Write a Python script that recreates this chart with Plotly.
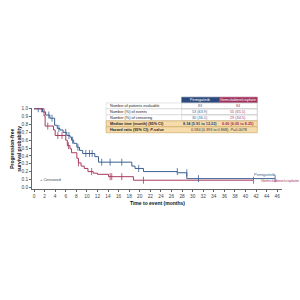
import plotly.graph_objects as go

# ---------------- data ----------------
pemi_t = [0, 1.6, 2.2, 3.0, 3.9, 4.4, 4.9, 5.5, 6.2, 6.8, 7.1, 7.5, 8.1, 8.6, 9.2, 11.5, 12.2, 18.5, 19.1, 20.7, 27.1, 28.9, 45.6]
pemi_s = [1.0, 0.96, 0.92, 0.88, 0.79, 0.75, 0.73, 0.70, 0.66, 0.64, 0.60, 0.56, 0.51, 0.47, 0.43, 0.39, 0.32, 0.27, 0.24, 0.20, 0.185, 0.11, 0.11]
pemi_cens_t = [0.8, 2.8, 3.4, 4.7, 6.0, 6.6, 7.3, 8.3, 9.8, 10.5, 11.0, 12.8, 14.4, 16.6, 19.8, 27.1, 28.9, 31.1, 45.6]
pemi_cens_s = [1.0, 0.92, 0.88, 0.75, 0.70, 0.66, 0.60, 0.51, 0.43, 0.43, 0.43, 0.32, 0.32, 0.32, 0.24, 0.20, 0.185, 0.11, 0.11]

gem_t = [0, 1.9, 2.1, 3.7, 4.0, 6.0, 6.3, 6.8, 7.1, 8.1, 8.4, 8.9, 9.5, 10.2, 11.2, 12.0, 14.1, 18.8, 41.5]
gem_s = [1.0, 0.91, 0.78, 0.73, 0.66, 0.60, 0.53, 0.49, 0.44, 0.37, 0.31, 0.27, 0.24, 0.20, 0.18, 0.165, 0.135, 0.09, 0.09]
gem_cens_t = [1.4, 2.6, 4.5, 5.3, 6.5, 8.4, 10.9, 14.4, 14.7, 16.6, 20.7, 41.5]
gem_cens_s = [1.0, 0.78, 0.66, 0.66, 0.53, 0.31, 0.20, 0.135, 0.135, 0.135, 0.09, 0.09]

x_ticks = list(range(0, 47, 2))
y_ticks = [i / 10 for i in range(11)]

table_cols = ["Pemigatinib", "Gemcitabine/cisplatin"]
table_rows = ["Number of patients evaluable", "Number (%) of events", "Number (%) of censoring",
              "Median time (month) (95% CI)", "Hazard ratio (95% CI); <i>P</i>-value"]
pemi_vals = ["83", "53 (63.9)", "30 (36.1)", "8.34 (5.91 to 12.22)"]
gem_vals = ["84", "55 (65.5)", "29 (34.5)", "6.60 (6.05 to 8.25)"]
hr_text = "0.584 (0.393 to 0.868); <i>P</i>=0.0078"

BLUE = "#3b5f91"
RED = "#a83a62"
FONT = "Liberation Sans, Arial, sans-serif"

fig = go.Figure()
fig.add_trace(go.Scatter(x=pemi_t, y=pemi_s, mode="lines", line=dict(color=BLUE, width=1, shape="hv"),
                         hoverinfo="skip", showlegend=False))
fig.add_trace(go.Scatter(x=gem_t, y=gem_s, mode="lines", line=dict(color=RED, width=1, shape="hv"),
                         hoverinfo="skip", showlegend=False))
fig.add_trace(go.Scatter(x=pemi_cens_t, y=pemi_cens_s, mode="markers",
                         marker=dict(symbol="line-ns", size=5, line=dict(color=BLUE, width=0.8)),
                         hoverinfo="skip", showlegend=False))
fig.add_trace(go.Scatter(x=gem_cens_t, y=gem_cens_s, mode="markers",
                         marker=dict(symbol="line-ns", size=5, line=dict(color=RED, width=0.8)),
                         hoverinfo="skip", showlegend=False))

# plot area in pixels
L, R, T, B = 32, 281.7, 107.5, 189


def P(x, y):
    return (x - L) / (R - L), (B - y) / (B - T)


shapes = []
ann = []


def rect(x0, y0, x1, y1, fill, line, lw=0.5):
    a = P(x0, y1)
    b = P(x1, y0)
    shapes.append(dict(type="rect", xref="paper", yref="paper", x0=a[0], y0=a[1], x1=b[0], y1=b[1],
                       fillcolor=fill, line=dict(color=line, width=lw), layer="above"))


def text(x, y, s, size=3.8, color="#222", anchor="center", bold=False):
    px, py = P(x, y)
    if bold:
        s = "<b>" + s + "</b>"
    ann.append(dict(xref="paper", yref="paper", x=px, y=py, text=s, showarrow=False,
                    xanchor=anchor, yanchor="middle", font=dict(size=size, color=color, family=FONT)))


# table
tx0, c1, c2, tx1 = 106, 181.5, 219, 257
ty = 96.6
hh = 5.8
rh = 6.0
rect(c1, ty, c2, ty + hh, "#2c4a7e", "#2c4a7e")
rect(c2, ty, tx1, ty + hh, "#9e2f5a", "#9e2f5a")
text((c1 + c2) / 2, ty + hh / 2, table_cols[0], color="white")
text((c2 + tx1) / 2, ty + hh / 2, table_cols[1], color="white")
for i, lab in enumerate(table_rows):
    y0 = ty + hh + i * rh
    tan = i >= 3
    if tan:
        rect(tx0, y0, tx1, y0 + rh, "#f6dcab", "#c9a35f", 0.6)
    else:
        rect(tx0, y0, tx1, y0 + rh, "white", "#c8c8c8", 0.5)
        rect(c1, y0, tx1, y0 + rh, "rgba(0,0,0,0)", "#c8c8c8", 0.5)
    text(tx0 + 1.5, y0 + rh / 2, lab, anchor="left", bold=tan)
    if i < 4:
        text((c1 + c2) / 2, y0 + rh / 2, pemi_vals[i], color=BLUE if not tan else "#1f3f73", bold=tan)
        text((c2 + tx1) / 2, y0 + rh / 2, gem_vals[i], color=RED if not tan else "#a02850", bold=tan)
    else:
        text((c1 + tx1) / 2, y0 + rh / 2, hr_text, color="#333")

# curve labels & legend
text(252, 174, "Pemigatinib", size=4, color=BLUE, anchor="left")
text(258.5, 180.5, "Gemcitabine/cisplatin", size=4, color=RED, anchor="left")
text(37.5, 179.5, "+ Censored", size=4, color="#444", anchor="left")

# axis titles
text((L + R) / 2, 203, "Time to event (months)", size=5, color="#111", bold=True)
px, py = P(15.5, 148)
ann.append(dict(xref="paper", yref="paper", x=px, y=py, text="<b>Progression-free<br>survival probability</b>",
                showarrow=False, textangle=-90, xanchor="center", yanchor="middle",
                font=dict(size=5, color="#111", family=FONT)))

fig.update_layout(
    width=300, height=300,
    margin=dict(l=L, r=300 - R, t=T, b=300 - B, pad=0),
    paper_bgcolor="white", plot_bgcolor="white",
    shapes=shapes, annotations=ann,
    font=dict(family=FONT),
    xaxis=dict(range=[-0.38, 46.9], tickvals=x_ticks, ticks="outside", ticklen=2, tickwidth=0.6,
               tickcolor="#666", showline=True, linecolor="#666", linewidth=0.6, showgrid=False,
               zeroline=False, tickfont=dict(size=4.8, color="#444"), fixedrange=True),
    yaxis=dict(range=[-0.022, 1.01], tickvals=y_ticks, tickformat=".1f", ticks="outside", ticklen=2,
               tickwidth=0.6, tickcolor="#666", showline=True, linecolor="#666", linewidth=0.6,
               showgrid=False, zeroline=False, tickfont=dict(size=4.8, color="#444"), fixedrange=True),
)

fig.write_html("out.html")
